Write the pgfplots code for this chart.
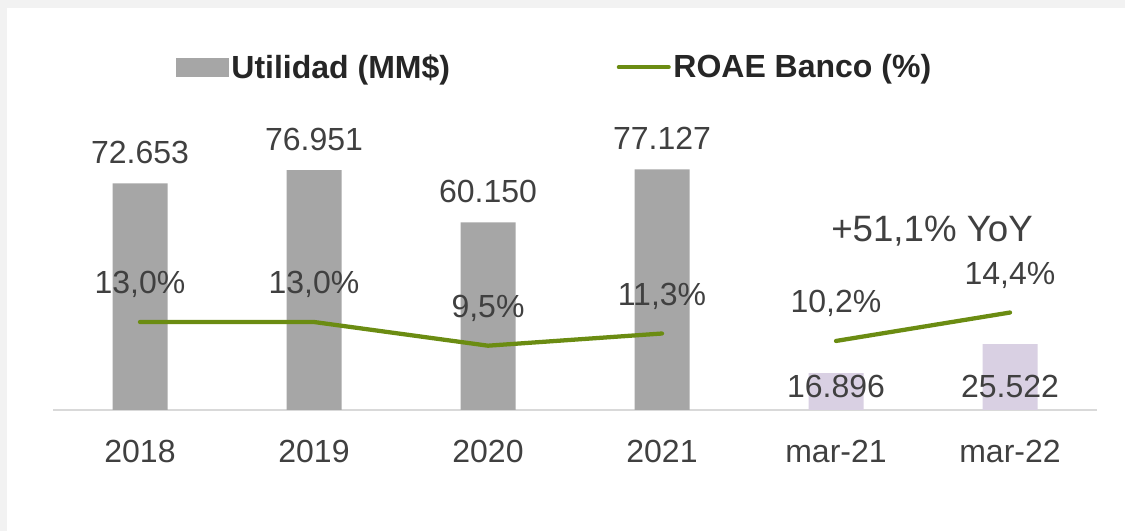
\documentclass[border=0pt]{standalone}
\usepackage{pgfplots}
\pgfplotsset{compat=1.18}
\usepackage{pgfplotstable}
\usepackage{fontspec}
\setmainfont{Liberation Sans}

\definecolor{bargray}{HTML}{A6A6A6}
\definecolor{barlila}{HTML}{D9D0E3}
\definecolor{roae}{HTML}{6B8C12}
\definecolor{txt}{HTML}{404040}
\definecolor{legtxt}{HTML}{262626}
\definecolor{framegray}{HTML}{F2F2F2}
\definecolor{axisline}{HTML}{D9D9D9}

% utilidad anual (MM$)
\pgfplotstableread{
x y label
0 72653 72.653
1 76951 76.951
2 60150 60.150
3 77127 77.127
}\utilidad

% utilidad trimestral (MM$)
\pgfplotstableread{
x y label
4 16896 16.896
5 25522 25.522
}\trimestre

% ROAE (%)
\pgfplotstableread{
x y label
0 13.0 13,0\%
1 13.0 13,0\%
2 9.5 9,5\%
3 11.3 11,3\%
}\roaeanual

\pgfplotstableread{
x y label
4 10.2 10,2\%
5 14.4 14,4\%
}\roaemar

\tikzset{big/.style={font=\fontsize{24}{28}\selectfont}}
\pgfplotsset{
  base/.style={
    scale only axis, width=783pt, height=232.5pt,
    at={(39.75pt,90.75pt)}, anchor=south west,
    xmin=-0.5, xmax=5.5, enlargelimits=false, clip=false,
  },
}

\begin{document}
\begin{tikzpicture}
\fill[white] (0,0) rectangle (843.75pt,398.25pt);
\fill[framegray] (0,392.25pt) rectangle (843.75pt,398.25pt);
\fill[framegray] (0,0) rectangle (5.25pt,398.25pt);

% barras anuales
\begin{axis}[base,
  ymin=0, ymax=99400,
  axis x line*=bottom, axis y line=none,
  axis line style={draw=axisline, line width=1.2pt, -},
  xtick={0,...,5},
  xticklabels={2018,2019,2020,2021,mar-21,mar-22},
  major tick length=0pt,
  xticklabel style={big, text=txt, anchor=center, yshift=-31pt},
  legend columns=2,
  legend style={draw=none, fill=none, inner sep=0pt,
    at={(0.1178,1.106)}, anchor=west,
    nodes={inner sep=2pt, text=legtxt, font=\bfseries\fontsize{24}{28}\selectfont},
    /tikz/column 2/.style={column sep=123pt}},
]
\addplot[ybar, bar width=41.25pt, fill=bargray, draw=none,
  nodes near coords, point meta=explicit symbolic,
  nodes near coords style={big, text=txt, anchor=center, yshift=23pt},
  forget plot] table[x=x, y=y, meta=label] {\utilidad};

\addlegendimage{legend image code/.code={\fill[bargray] (0pt,-6.85pt) rectangle (39pt,6.65pt);}}
\addlegendentry{Utilidad (MM\$)}
\addlegendimage{legend image code/.code={\draw[roae, line width=3pt, line cap=round] (1.5pt,-0.1pt) -- (39pt,-0.1pt);}}
\addlegendentry{ROAE Banco (\%)}
\end{axis}

% barras marzo (escala propia)
\begin{axis}[base, hide axis, ymin=5890, ymax=98150]
\addplot[ybar, bar width=41.25pt, fill=barlila, draw=none]
  table[x=x, y=y] {\trimestre};
\end{axis}

% etiquetas de marzo sobre las barras
\begin{axis}[base, hide axis, ymin=0, ymax=99400]
\node[big, text=txt] at (axis cs:4,0) [yshift=18pt] {16.896};
\node[big, text=txt] at (axis cs:5,0) [yshift=18pt] {25.522};
\end{axis}

% ROAE
\begin{axis}[base, hide axis, ymin=0, ymax=45.8]
\addplot[roae, line width=3.2pt, line cap=round, line join=round,
  nodes near coords, point meta=explicit symbolic,
  nodes near coords style={big, text=txt, anchor=center, yshift=28pt}]
  table[x=x, y=y, meta=label] {\roaeanual};
\addplot[roae, line width=3.2pt, line cap=round, line join=round,
  nodes near coords, point meta=explicit symbolic,
  nodes near coords style={big, text=txt, anchor=center, yshift=28pt}]
  table[x=x, y=y, meta=label] {\roaemar};
\end{axis}

\node[text=txt, font=\fontsize{27.5}{30}\selectfont] at (699pt,225pt) {+51,1\% YoY};
\end{tikzpicture}
\end{document}
